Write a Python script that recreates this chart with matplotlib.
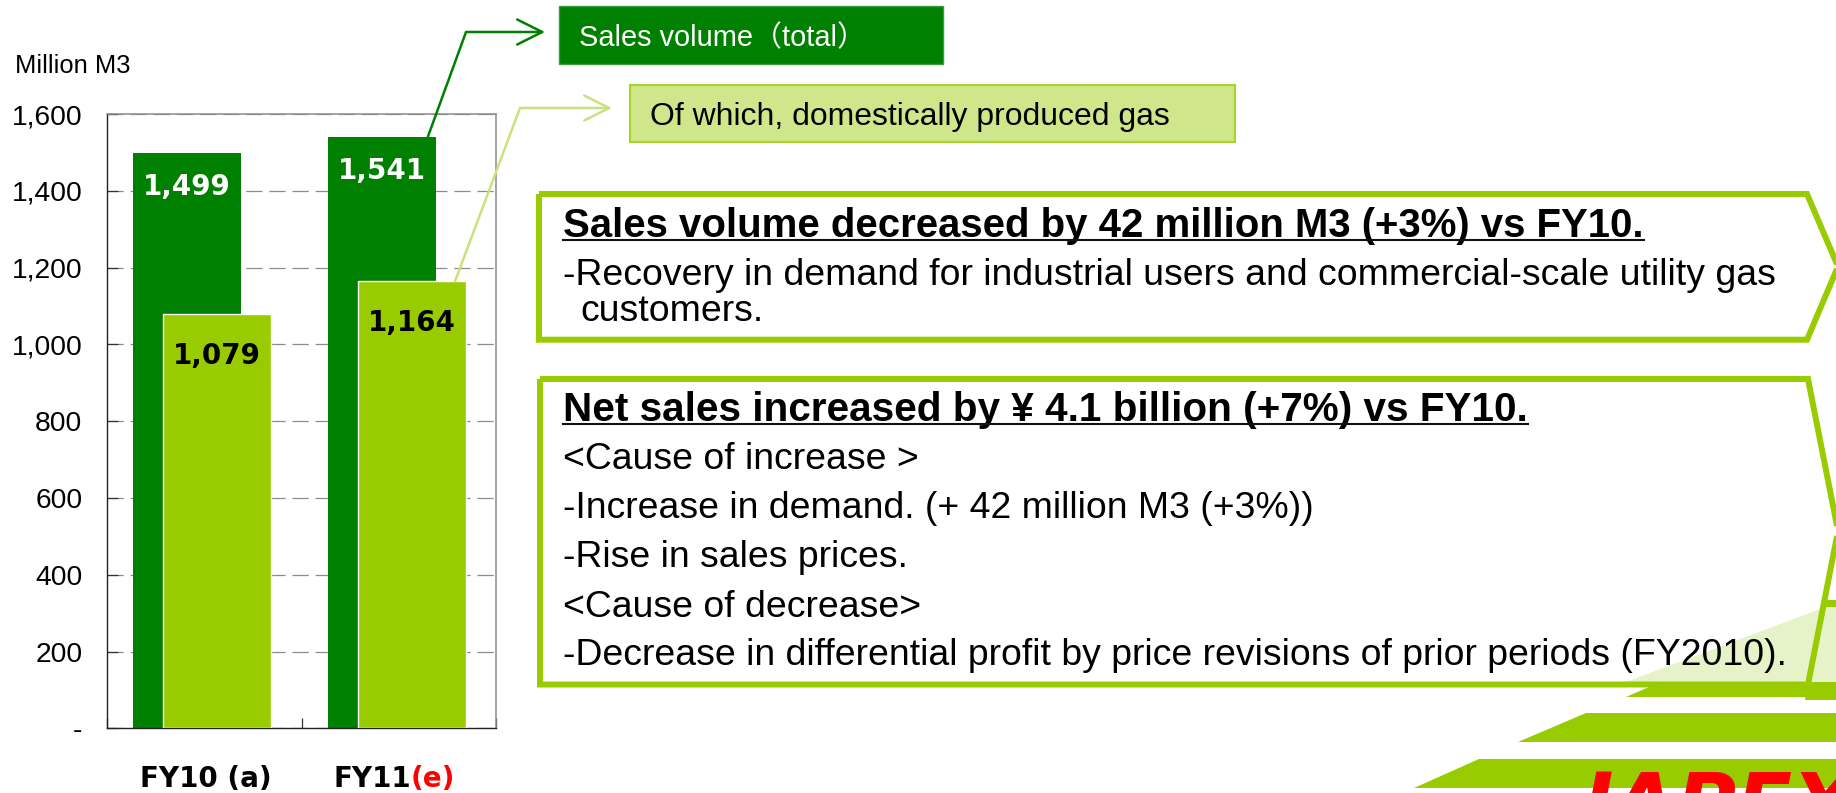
import matplotlib
matplotlib.use('Agg')
import numpy as np
import matplotlib.pyplot as plt
from matplotlib.patches import Polygon, Rectangle, FancyArrowPatch
from matplotlib.path import Path
from matplotlib.lines import Line2D
from matplotlib.ticker import FuncFormatter, FixedLocator

# ---------------- data ----------------
categories = ['FY10 (a)', 'FY11']
category_suffix = ['', '(e)']
sales_total = [1499, 1541]
domestic_gas = [1079, 1164]
y_ticks = [0, 200, 400, 600, 800, 1000, 1200, 1400, 1600]
unit_label = 'Million M3'
legend_total = 'Sales volume（total）'
legend_domestic = 'Of which, domestically produced gas'
box1_title = 'Sales volume decreased by 42 million M3 (+3%) vs FY10.'
box1_lines = ['-Recovery in demand for industrial users and commercial-scale utility gas',
              'customers.']
box2_title = 'Net sales increased by ¥ 4.1 billion (+7%) vs FY10.'
box2_lines = ['<Cause of increase >',
              '-Increase in demand. (+ 42 million M3 (+3%))',
              '-Rise in sales prices.',
              '<Cause of decrease>',
              '-Decrease in differential profit by price revisions of prior periods (FY2010).']
logo_text = 'JAPEX'

# ---------------- style ----------------
W, H, DPI = 1836, 793, 100
DARK = '#008000'
LIGHT = '#99CC00'
PALE_FILL = '#CFE68A'
REG = 'Liberation Sans'
BOLD_CHART = 'DejaVu Sans'
plt.rcParams['font.family'] = [REG, 'DejaVu Sans']

fig = plt.figure(figsize=(W / DPI, H / DPI), dpi=DPI)
fig.patch.set_facecolor('white')

# main chart axes (pixel box)
ax_l, ax_r, ax_t, ax_b = 107, 496, 114, 728.3
ax = fig.add_axes([ax_l / W, 1 - ax_b / H, (ax_r - ax_l) / W, (ax_b - ax_t) / H], zorder=0)

# overlay axes in pixel coordinates (y downward)
ov = fig.add_axes([0, 0, 1, 1], zorder=1)
ov.set_xlim(0, W)
ov.set_ylim(H, 0)
ov.axis('off')
ov.patch.set_alpha(0)

# ---------------- bars ----------------
xpos = np.arange(len(categories))
bw = 0.555
dark_off, light_off = -0.088, 0.067
ax.bar(xpos + dark_off, sales_total, width=bw, color=DARK, zorder=2)
ax.bar(xpos + light_off, domestic_gas, width=bw, color=LIGHT, edgecolor='white',
       linewidth=1.0, zorder=3)
ax.set_xlim(-0.5, len(categories) - 0.5)
ax.set_ylim(y_ticks[0], y_ticks[-1])

for x, v in zip(xpos + dark_off, sales_total):
    ax.annotate(f'{v:,}', (x, v), xytext=(0, -25), textcoords='offset points',
                ha='center', va='center', color='white', fontsize=20,
                fontweight='bold', family=BOLD_CHART, zorder=5)
for x, v in zip(xpos + light_off, domestic_gas):
    ax.annotate(f'{v:,}', (x, v), xytext=(0, -30), textcoords='offset points',
                ha='center', va='center', color='black', fontsize=20,
                fontweight='bold', family=BOLD_CHART, zorder=5)

# axis styling
ax.yaxis.set_major_locator(FixedLocator(y_ticks))
ax.yaxis.set_major_formatter(FuncFormatter(lambda v, _: '-' if v == 0 else f'{v:,.0f}'))
ax.yaxis.grid(True, color='#8c8c8c', linewidth=0.9, linestyle=(0, (13, 5.5)), zorder=0)
ax.set_axisbelow(True)
ax.tick_params(axis='y', direction='in', length=8, width=0.9, color='#333333',
               pad=17.8, labelsize=20.3, labelcolor='black')
ax.set_xticks(np.arange(-0.5, len(categories)))
ax.set_xticklabels([])
ax.tick_params(axis='x', direction='in', length=7, width=0.9, color='#333333')
for s in ['left', 'bottom']:
    ax.spines[s].set_color('#222222')
    ax.spines[s].set_linewidth(1.0)
for s in ['top', 'right']:
    ax.spines[s].set_color('#8c8c8c')
    ax.spines[s].set_linewidth(1.1)

# category labels (FY11 has a red suffix)
label_dx = [1.0, 8.8]
for i, (c, suf) in enumerate(zip(categories, category_suffix)):
    if suf:
        t = ax.annotate(c, (i, 0), xycoords=('data', 'axes fraction'),
                        xytext=(label_dx[i], -42), textcoords='offset points',
                        ha='right', va='baseline', fontsize=20, fontweight='bold',
                        family=BOLD_CHART, color='black', annotation_clip=False)
        ax.annotate(suf, (1, 0), xycoords=t, ha='left', va='bottom', fontsize=20,
                    fontweight='bold', family=BOLD_CHART, color='#FF0000',
                    annotation_clip=False)
    else:
        ax.annotate(c, (i, 0), xycoords=('data', 'axes fraction'),
                    xytext=(label_dx[i], -42), textcoords='offset points',
                    ha='center', va='baseline', fontsize=20, fontweight='bold',
                    family=BOLD_CHART, color='black', annotation_clip=False)

ov.text(15, 72.7, unit_label, ha='left', va='baseline', fontsize=18.4, family=REG)

renderer = fig.canvas.get_renderer()


def fit_text(x, y, s, target_w, weight='normal', family=REG, color='black', size0=20, z=6):
    t = ov.text(x, y, s, ha='left', va='baseline', fontsize=size0, fontweight=weight,
                family=family, color=color, zorder=z)
    w = t.get_window_extent(renderer).width
    t.set_fontsize(size0 * target_w / w)
    return t


def underline(t, y, lw=1.5):
    bb = t.get_window_extent(renderer)
    ov.add_line(Line2D([bb.x0, bb.x1], [y, y], color='#111111', lw=lw, zorder=6))


def to_ov(x, y):
    d = ax.transData.transform((x, y))
    return ov.transData.inverted().transform(d)

# ---------------- legend boxes + connectors ----------------
ov.add_patch(Rectangle((558.7, 6), 384.3, 58, facecolor=DARK, edgecolor='#3a9a3a',
                       lw=1.0, zorder=3))
fit_text(579, 46.7, legend_total, 286, color='white',
         family=[REG, 'Noto Sans CJK JP'])
ov.add_patch(Rectangle((630, 85), 605, 57, facecolor=PALE_FILL, edgecolor='#A8D32A',
                       lw=1.5, zorder=3))
fit_text(650, 125, legend_domestic, 518)

p0 = to_ov(xpos[1] + dark_off + 0.238, sales_total[1])
dark_path = Path([tuple(p0), (466, 32), (545, 32)])
ov.add_patch(FancyArrowPatch(path=dark_path, arrowstyle='->,head_length=0.9,head_width=0.45',
                             mutation_scale=20, color=DARK, lw=1.8, zorder=4))
p1 = to_ov(xpos[1] + light_off + 0.222, domestic_gas[1])
light_path = Path([tuple(p1), (520, 108), (612, 108)])
ov.add_patch(FancyArrowPatch(path=light_path, arrowstyle='->,head_length=0.9,head_width=0.45',
                             mutation_scale=20, color='#C8E27F', lw=1.8, zorder=4))

# ---------------- logo stripes (behind box 2) ----------------
ov.add_patch(Polygon([(1818, 600), (1836, 600), (1836, 700), (1805, 700)],
                     closed=True, facecolor=LIGHT, edgecolor='none', zorder=0.5))
for pts in ([(1626, 697), (1649, 687), (1836, 687), (1836, 697)],
            [(1518, 742), (1586, 713), (1836, 713), (1836, 742)],
            [(1414, 788), (1479, 759), (1836, 759), (1836, 788)]):
    ov.add_patch(Polygon(pts, closed=True, facecolor=LIGHT, edgecolor='none', zorder=0.5))
ov.text(1583, 832, logo_text, ha='left', va='baseline', fontsize=59, fontweight='bold',
        fontstyle='italic', family='DejaVu Sans', color='#FF0000', zorder=0.6)

# ---------------- text boxes ----------------
box1 = [(539, 194), (1807, 194), (1838, 266.5), (1807, 339.7), (539, 339.7)]
box2 = [(540, 379), (1808, 379), (1838, 531), (1808, 684.5), (540, 684.5)]
for pts in (box1, box2):
    ov.add_patch(Polygon(pts, closed=True, facecolor='white', edgecolor='none', zorder=1))
    ov.add_patch(Polygon(pts, closed=True, fill=False, edgecolor=LIGHT, lw=4.3,
                         joinstyle='miter', zorder=2))
# pale logo tint showing through box 2
ov.add_patch(Polygon([(1626, 682), (1826, 607), (1836, 607), (1836, 682)], closed=True,
                     facecolor='#E6F2C8', edgecolor='none', zorder=1.5))

# regular font size from the longest line
probe = fit_text(563, 665, box2_lines[-1], 1223)
reg_size = probe.get_fontsize()

t1 = fit_text(563, 236.7, box1_title, 1081, weight='bold')
underline(t1, 240.3)
ov.text(563, 285, box1_lines[0], ha='left', va='baseline', fontsize=reg_size, family=REG, zorder=6)
ov.text(580, 320.7, box1_lines[1], ha='left', va='baseline', fontsize=reg_size, family=REG, zorder=6)

t2 = fit_text(563, 420.7, box2_title, 963, weight='bold')
underline(t2, 424)
for yb, s in zip([469.3, 518.3, 567.3, 616.7], box2_lines[:-1]):
    ov.text(563, yb, s, ha='left', va='baseline', fontsize=reg_size, family=REG, zorder=6)

fig.savefig('out.png', dpi=DPI, facecolor='white')
